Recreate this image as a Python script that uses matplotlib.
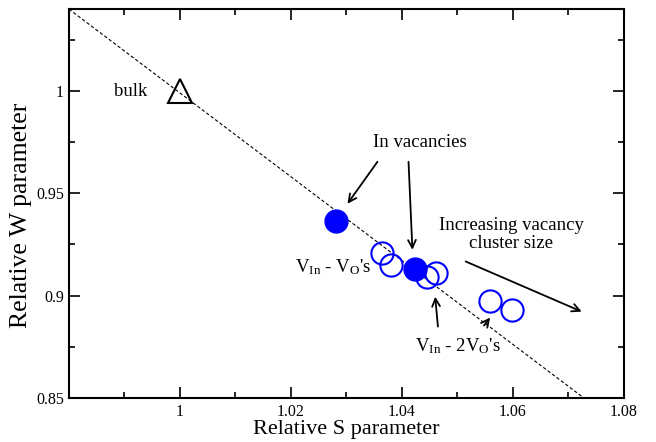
import matplotlib
matplotlib.use("Agg")
import matplotlib.pyplot as plt
from matplotlib.ticker import MultipleLocator, FuncFormatter

plt.rcParams['font.family'] = ['Liberation Serif', 'DejaVu Serif']
plt.rcParams['mathtext.fontset'] = 'custom'
plt.rcParams['mathtext.rm'] = 'Liberation Serif'
plt.rcParams['mathtext.it'] = 'Liberation Serif:italic'

# Data
bulk_s = [1.0]
bulk_w = [1.0]
in_vac_s = [1.0281, 1.0424]
in_vac_w = [0.9367, 0.9132]
cluster_s = [1.0365, 1.0380, 1.0446, 1.0461, 1.0558, 1.0599]
cluster_w = [0.9208, 0.9151, 0.9091, 0.9111, 0.8972, 0.8928]
line_s = [0.98, 1.0728]
line_w = [1.04, 0.85]

fig = plt.figure(figsize=(6.56, 4.42), dpi=100)
ax = fig.add_axes([0.105, 0.0995, 0.846, 0.880])

ax.plot(line_s, line_w, ls=(0, (3, 2)), color='black', lw=0.8, zorder=1)
ax.plot(bulk_s, bulk_w, marker='^', ms=17, mfc='none', mec='black', mew=1.5, ls='none', zorder=3)
ax.plot(cluster_s, cluster_w, marker='o', ms=16, mfc='none', mec='#0000ff', mew=1.5, ls='none', zorder=3)
ax.plot(in_vac_s, in_vac_w, marker='o', ms=16.5, mfc='#0000ff', mec='#0000ff', mew=1, ls='none', zorder=4)

ax.set_xlim(0.98, 1.08)
ax.set_ylim(0.85, 1.04)
ax.xaxis.set_major_locator(MultipleLocator(0.02))
ax.xaxis.set_minor_locator(MultipleLocator(0.01))
ax.yaxis.set_major_locator(MultipleLocator(0.05))
ax.yaxis.set_minor_locator(MultipleLocator(0.025))

def fmt_x(v, p):
    if abs(v - 0.98) < 1e-6:
        return ''
    return '%g' % round(v, 4)

ax.xaxis.set_major_formatter(FuncFormatter(fmt_x))
ax.yaxis.set_major_formatter(FuncFormatter(lambda v, p: '%g' % round(v, 4)))
ax.tick_params(which='both', direction='in', top=True, right=True, labelsize=11.5, width=1.2)
ax.tick_params(which='major', length=8)
ax.tick_params(which='minor', length=4)
ax.tick_params(axis='x', pad=4)
for s in ax.spines.values():
    s.set_linewidth(1.5)

ax.set_xlabel('Relative S parameter', fontsize=16, labelpad=0)
ax.set_ylabel('Relative W parameter', fontsize=18.5)
ax.yaxis.set_label_coords(-0.066, 0.47)

tfs = 13.5
ax.text(0.99115, 0.9995, 'bulk', fontsize=tfs, ha='center', va='center')
ax.text(1.0433, 0.9746, 'In vacancies', fontsize=tfs, ha='center', va='center')
ax.text(1.0597, 0.9300, 'Increasing vacancy\ncluster size', fontsize=tfs, ha='center', va='center',
        multialignment='center', linespacing=1.1)
ax.text(1.0277, 0.9137, r"V$_\mathrm{In}$ - V$_\mathrm{O}$'s", fontsize=tfs, ha='center', va='center')
ax.text(1.0500, 0.8751, r"V$_\mathrm{In}$ - 2V$_\mathrm{O}$'s", fontsize=tfs, ha='center', va='center')

ap = dict(arrowstyle='->', color='black', lw=1.3, mutation_scale=14, shrinkA=0, shrinkB=0)
ax.annotate('', xy=(1.0302, 0.9449), xytext=(1.0356, 0.9654), arrowprops=ap)
ax.annotate('', xy=(1.0419, 0.9224), xytext=(1.0412, 0.9654), arrowprops=ap)
ax.annotate('', xy=(1.0724, 0.8922), xytext=(1.0515, 0.9167), arrowprops=ap)
ax.annotate('', xy=(1.0460, 0.8995), xytext=(1.0465, 0.8849), arrowprops=ap)
ax.annotate('', xy=(1.0559, 0.8893), xytext=(1.0548, 0.8854), arrowprops=ap)

fig.savefig('out.png', dpi=100)
